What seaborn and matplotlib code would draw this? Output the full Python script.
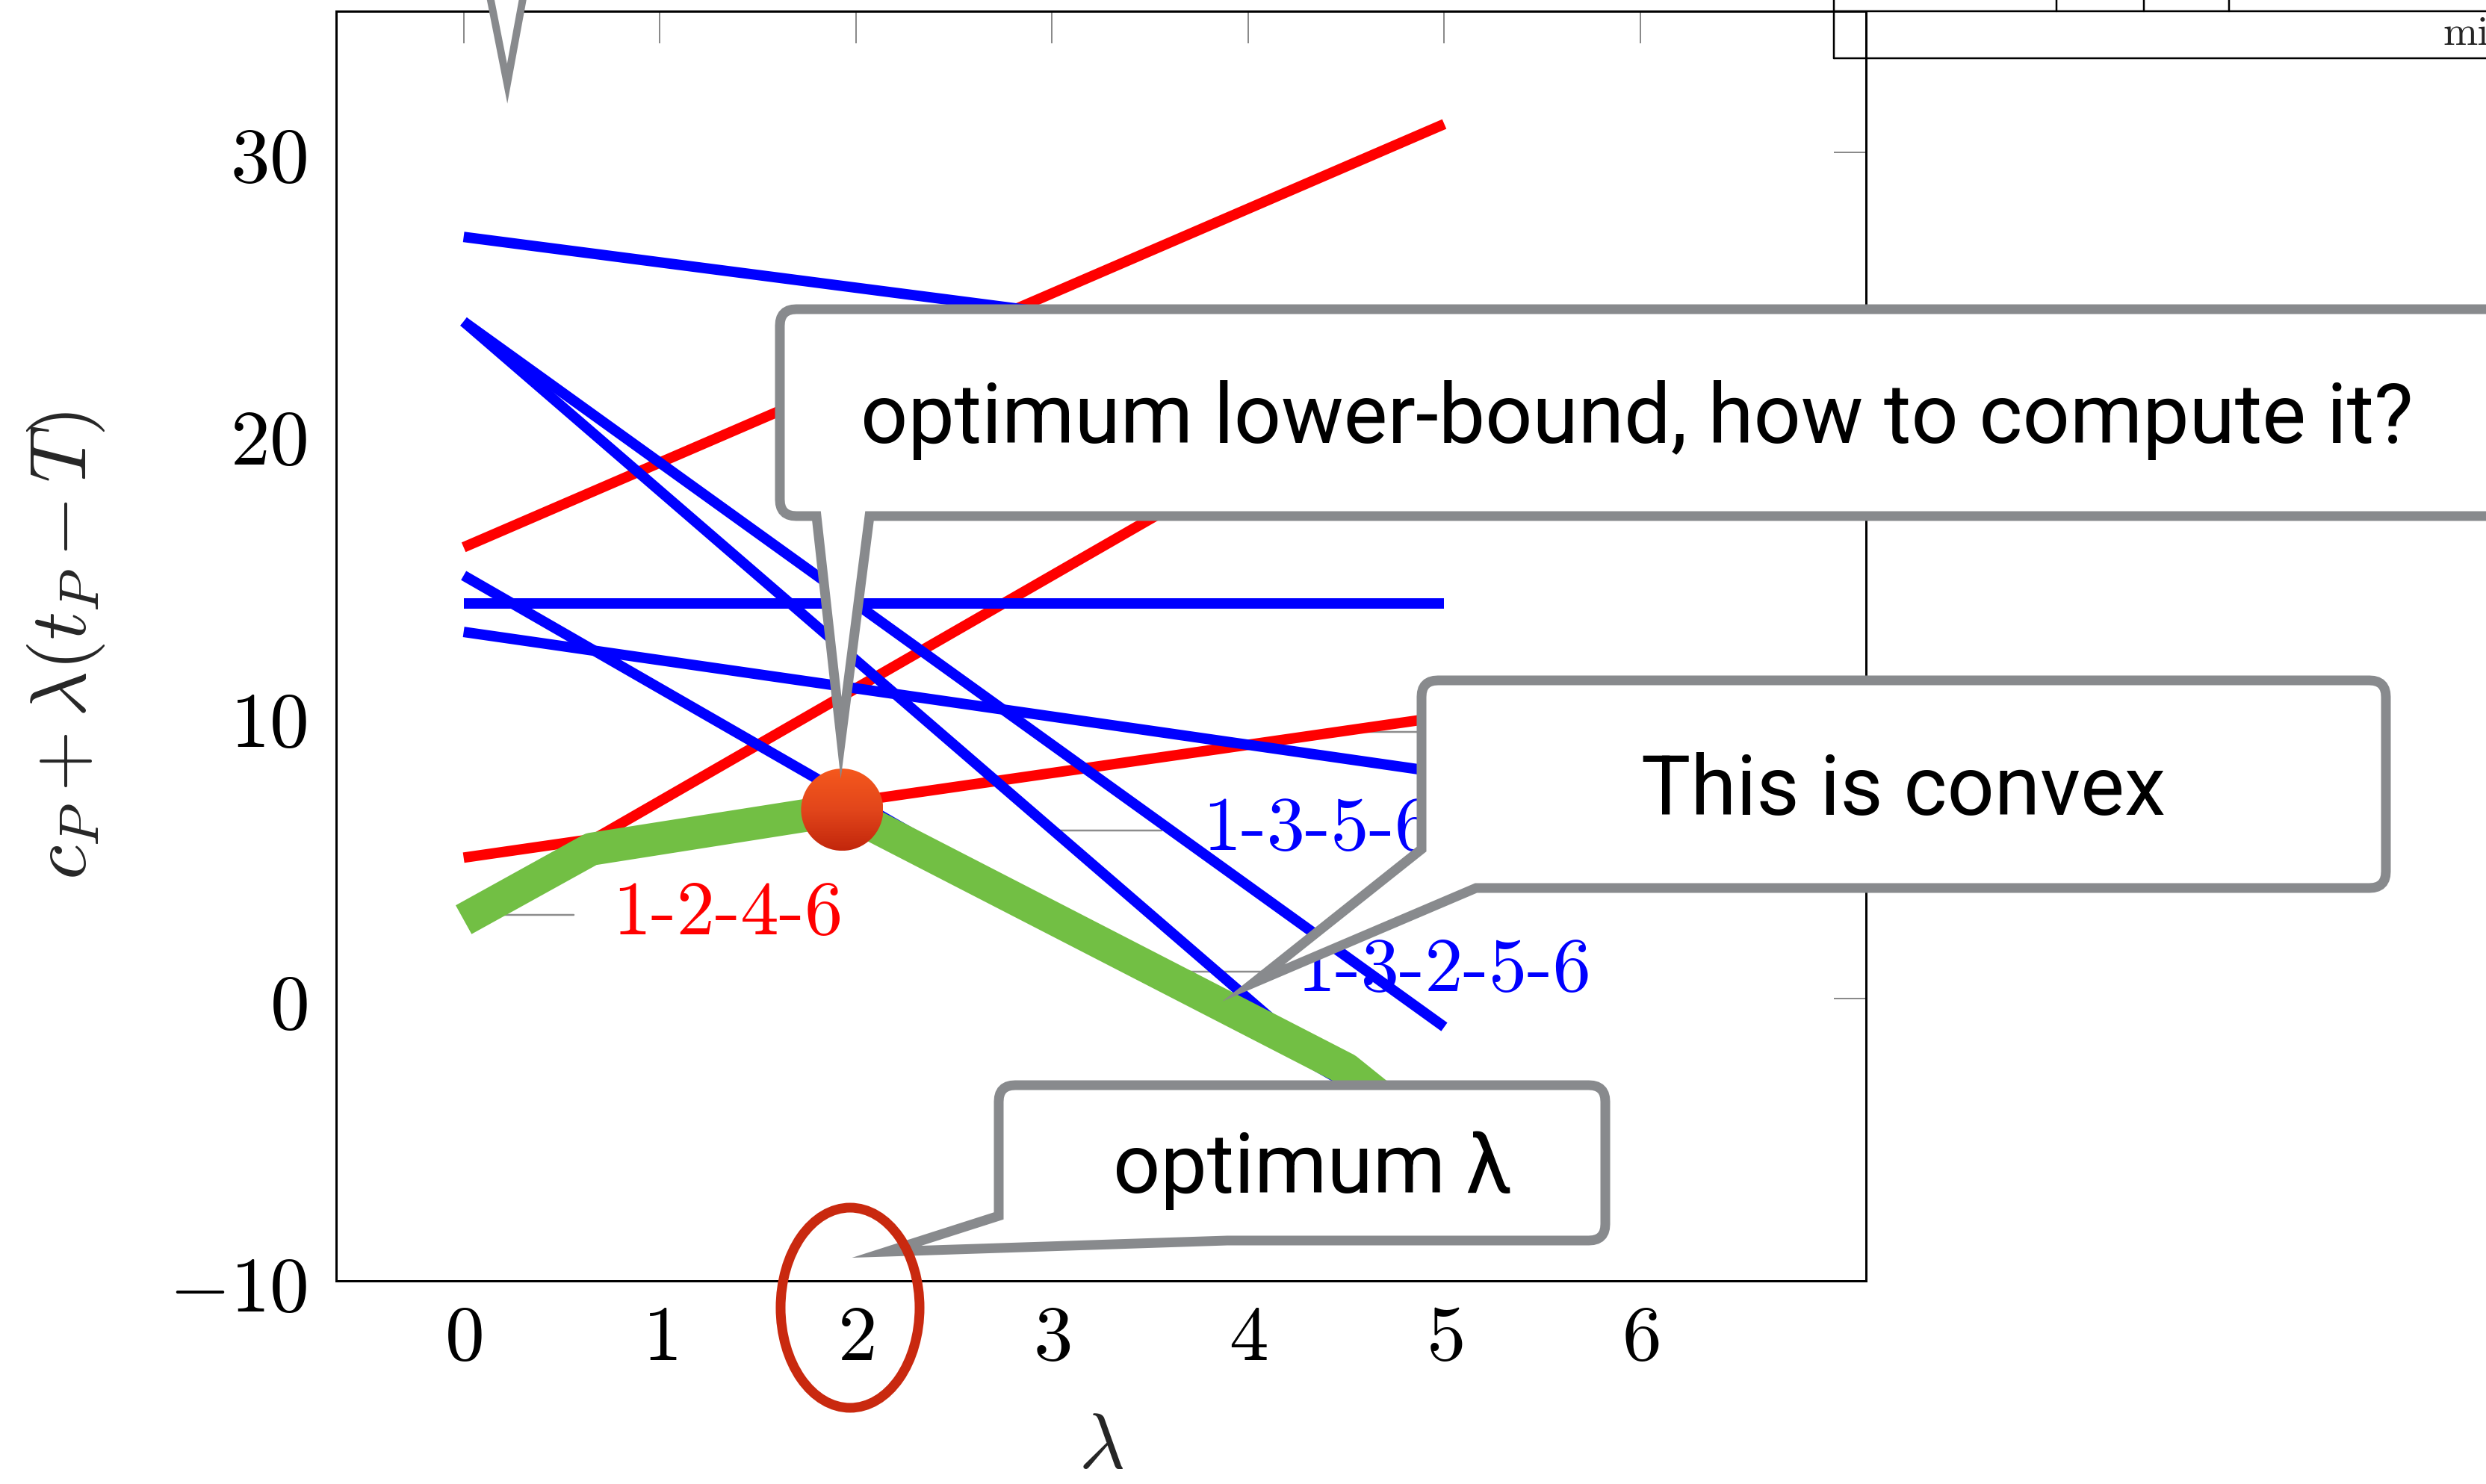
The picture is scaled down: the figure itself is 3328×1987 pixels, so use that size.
import matplotlib

matplotlib.use('Agg')
import numpy as np
import pandas as pd
import matplotlib.pyplot as plt
import seaborn as sns
from matplotlib.patches import Polygon, Ellipse, Circle
from matplotlib.colors import LinearSegmentedColormap

# c_P + lambda (t_P - T) for every path, drawn from lambda=0 to lambda=5
lam_ends = [0, 5]
red_start = [16, 3, 5]
red_end = [31, 23, 10]
blue_start = [27, 24, 24, 15, 14, 13]
blue_end = [22.5, -6, -1, -5, 14, 8]

# lower envelope (green), as traced on the slide
env_lam = [0, 0.65, 1.93, 4.5, 5]
env_val = [2.8, 5.3, 6.7, -2.5, -5.3]

# optimum point
opt_lam = 1.93
opt_val = 6.7

path_labels = ['1-2-4-6', '1-3-5-6', '1-3-2-5-6']
path_label_colors = ['#ff0000', '#0000ff', '#0000ff']
path_label_lam = [0.76, 3.77, 4.25]
path_label_val = [2.95, 5.95, 0.95]

# short grey pins next to the labels
pin_lam = [(0.15, 0.56), (3.03, 3.56), (3.64, 4.08), (4.56, 4.87)]
pin_val = [2.97, 5.96, 0.95, 9.46]

xticks = [0, 1, 2, 3, 4, 5, 6]
yticks = [-10, 0, 10, 20, 30]

W, H = 3328, 1987
DPI = 200
px = 72.0 / DPI  # points per pixel

sns.set_style('white')
plt.rcParams['mathtext.fontset'] = 'cm'
plt.rcParams['font.family'] = ['DejaVu Serif']

# long form table of the lines
rows = []
for i, (a, b) in enumerate(zip(red_start, red_end)):
    rows.append(('red', f'r{i}', lam_ends[0], a))
    rows.append(('red', f'r{i}', lam_ends[1], b))
for i, (a, b) in enumerate(zip(blue_start, blue_end)):
    rows.append(('blue', f'b{i}', lam_ends[0], a))
    rows.append(('blue', f'b{i}', lam_ends[1], b))
df = pd.DataFrame(rows, columns=['kind', 'path', 'lam', 'val'])

fig = plt.figure(figsize=(W / DPI, H / DPI), dpi=DPI)
ax = fig.add_axes([450 / W, 1 - 1715 / H, 2048 / W, 1700 / H])

sns.lineplot(data=df, x='lam', y='val', hue='kind', units='path', estimator=None,
             palette={'red': '#ff0000', 'blue': '#0000ff'}, linewidth=14 * px,
             legend=False, sort=False, ax=ax)
for c in ax.lines:
    c.set_solid_capstyle('butt')

# grey pins
for (a, b), v in zip(pin_lam, pin_val):
    ax.plot([a, b], [v, v], color='#8c8c8c', lw=2.5 * px, zorder=1)

# path labels
for t, c, l, v in zip(path_labels, path_label_colors, path_label_lam, path_label_val):
    ax.text(l, v, t, color=c, fontsize=37, family='cmr10', ha='left', va='center', zorder=2)

# lower envelope
sns.lineplot(x=env_lam, y=env_val, color='#72bf44', linewidth=44 * px, ax=ax, sort=False,
             zorder=4)
ax.lines[-1].set_solid_capstyle('butt')

ax.set_xlim(-0.65, 7.15)
ax.set_ylim(-10, 35)
ax.set_xticks(xticks)
ax.set_yticks(yticks)
ax.set_xticklabels([f'${t}$' for t in xticks])
ax.set_yticklabels([f'${t}$' for t in yticks])
ax.tick_params(direction='in', length=43 * px, width=2 * px, color='#8a8a8a',
               labelsize=38, pad=14, top=True, right=True, labelcolor='black')
ax.tick_params(axis='x', pad=9)
for s in ax.spines.values():
    s.set_color('black')
    s.set_linewidth(3 * px)
ax.set_xlabel(r'$\lambda$', fontsize=38)
ax.set_ylabel(r'$c_P + \lambda(t_P - T)$', fontsize=38)
ax.xaxis.set_label_coords(0.5, -0.1)
ax.yaxis.set_label_coords(-0.15, 0.5)

# overlay in pixel coordinates for the slide annotations
ov = fig.add_axes([0, 0, 1, 1], zorder=10)
ov.set_xlim(0, W)
ov.set_ylim(H, 0)
ov.axis('off')
ov.patch.set_alpha(0)

grey = '#888a8d'

# optimum dot with a shaded fill, placed from the data position
dx, dy = ax.transData.transform((opt_lam, opt_val))
dy = H - dy
r = 55
dot = Circle((dx, dy), r, transform=ov.transData, facecolor='none', edgecolor='none')
ov.add_patch(dot)
shade = LinearSegmentedColormap.from_list('dot', ['#f5581d', '#e2461b', '#c3270c'])
grad = np.linspace(0, 1, 64).reshape(-1, 1)
im = ov.imshow(grad, cmap=shade, extent=(dx - r, dx + r, dy + r, dy - r), aspect='auto',
               zorder=1)
im.set_clip_path(dot)
ov.set_xlim(0, W)
ov.set_ylim(H, 0)


def rounded(pts, corners, rad=22):
    out = []
    n = len(pts)
    for i, p in enumerate(pts):
        p = np.array(p, float)
        if i in corners:
            prev = np.array(pts[i - 1], float)
            nxt = np.array(pts[(i + 1) % n], float)
            a = p + (prev - p) / np.linalg.norm(prev - p) * rad
            b = p + (nxt - p) / np.linalg.norm(nxt - p) * rad
            for t in np.linspace(0, 1, 8):
                out.append((1 - t) ** 2 * a + 2 * (1 - t) * t * p + t ** 2 * b)
        else:
            out.append(p)
    return np.array(out)


callouts = [
    ([(1044, 414), (3420, 414), (3420, 691), (1164, 691), (1126, 988), (1093, 691), (1044, 691)],
     [0, 6], 'optimum lower-bound, how to compute it?', (1152, 593)),
    ([(1903, 911), (3194, 911), (3194, 1189), (1976, 1189), (1678, 1316), (1903, 1137)],
     [0, 1, 2], 'This is convex', (2197, 1091)),
    ([(1337, 1453), (2149, 1453), (2149, 1661), (1643, 1661), (1187, 1676), (1337, 1628)],
     [0, 1, 2], 'optimum λ', (1490, 1597)),
]
for pts, corners, txt, (tx, ty) in callouts:
    ov.add_patch(Polygon(rounded(pts, corners), closed=True, facecolor='white',
                         edgecolor=grey, lw=13 * px, joinstyle='miter', zorder=2))
    ov.text(tx, ty, txt, fontsize=40, family=['Roboto', 'DejaVu Sans'], fontweight='normal',
            ha='left', va='baseline', color='black', zorder=3)

# pointer of a bubble above the frame
ov.add_patch(Polygon([(649, -40), (679, 112), (707, -40)], closed=True, facecolor='white',
                     edgecolor=grey, lw=10 * px, joinstyle='miter', zorder=2))

# circle round the optimum tick label
ov.add_patch(Ellipse((1138, 1751), 186, 268, fill=False, edgecolor='#c9290f', lw=13 * px,
                     zorder=2))

# fragment of a table at the top right
for xs, ys in [([2455, 2455], [0, 78]), ([2455, W], [15, 15]), ([2455, W], [78, 78]),
               ([2753, 2753], [0, 15]), ([2870, 2870], [0, 15]), ([2984, 2984], [0, 15])]:
    ov.plot(xs, ys, color='black', lw=2.5 * px, zorder=2)
ov.text(3270, 60, 'mi', family='cmr10', fontsize=20, ha='left', va='baseline')

fig.savefig('out.png', dpi=DPI)
